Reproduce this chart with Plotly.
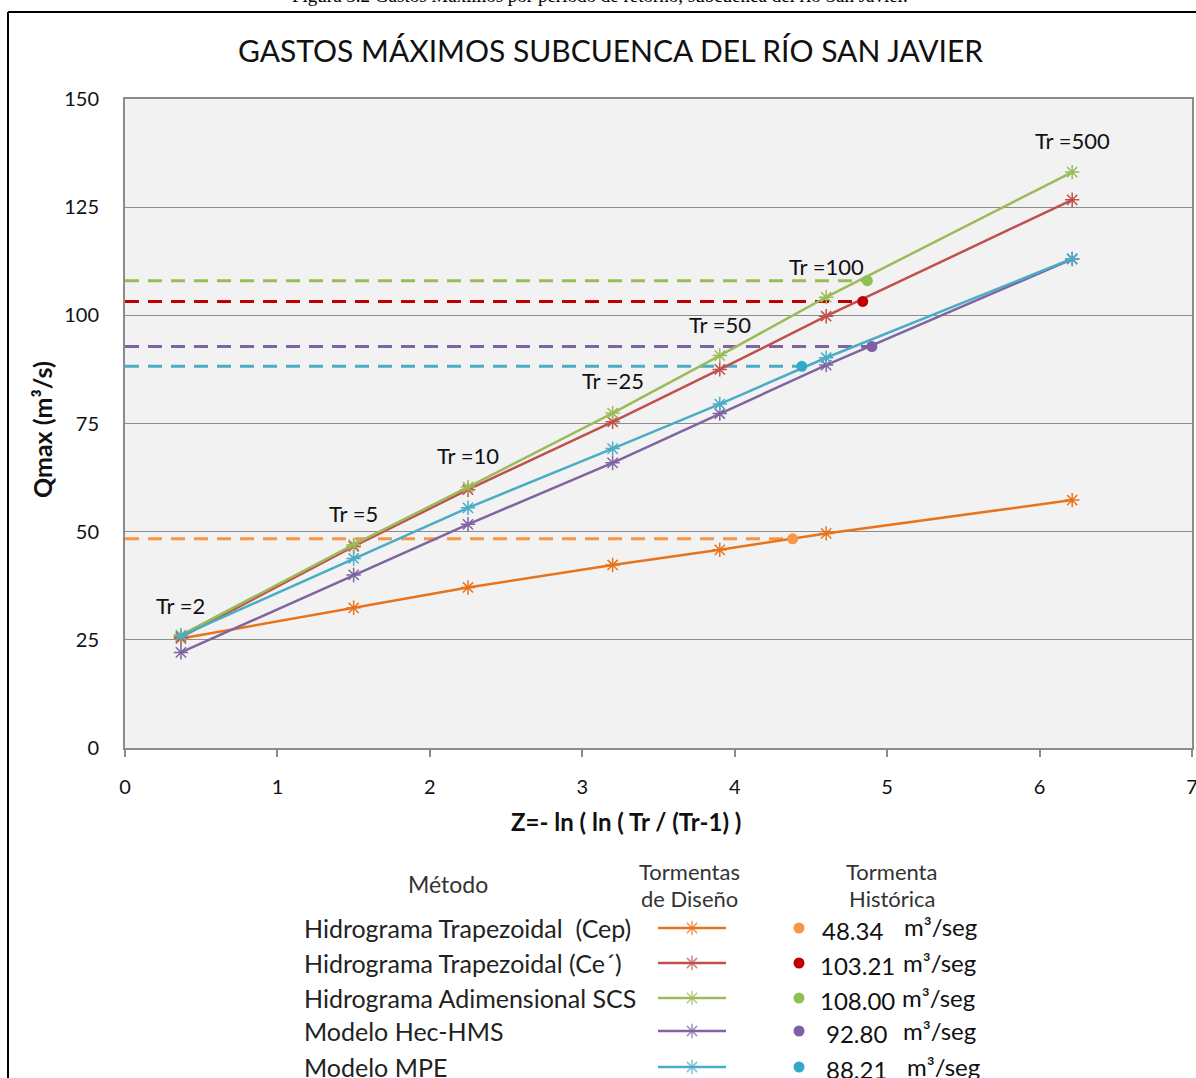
import plotly.graph_objects as go

# ---------------- data ----------------
z_values = [0.367, 1.500, 2.250, 3.199, 3.902, 4.600, 6.214]
tr_labels = ["Tr =2", "Tr =5", "Tr =10", "Tr =25", "Tr =50", "Tr =100", "Tr =500"]

methods = ["Hidrograma Trapezoidal  (Cep)", "Hidrograma Trapezoidal (Ce\u00b4)",
           "Hidrograma Adimensional SCS", "Modelo Hec-HMS", "Modelo MPE"]
q_cep = [25.3, 32.4, 37.1, 42.3, 45.8, 49.6, 57.3]
q_ce = [25.6, 46.6, 59.7, 75.4, 87.5, 99.8, 126.7]
q_scs = [26.1, 47.0, 60.3, 77.4, 90.7, 104.2, 133.1]
q_hms = [22.1, 40.0, 51.7, 65.9, 77.3, 88.5, 113.0]
q_mpe = [25.9, 43.8, 55.5, 69.2, 79.5, 90.2, 113.1]
series = [q_cep, q_ce, q_scs, q_hms, q_mpe]

hist_q = [48.34, 103.21, 108.00, 92.80, 88.21]
hist_z = [4.38, 4.84, 4.87, 4.90, 4.44]
hist_text = ["48.34", "103.21", "108.00", "92.80", "88.21"]

y_ticks = [0, 25, 50, 75, 100, 125, 150]
x_ticks = [0, 1, 2, 3, 4, 5, 6, 7]

# ---------------- styles ----------------
W, H = 1196, 1078
line_colors = ["#E8731B", "#C0504D", "#9BBB59", "#8064A2", "#4BACC6"]
hist_colors = ["#F79646", "#C00000", "#92C050", "#7F5FA8", "#31A9C9"]
dash_colors = ["#F79646", "#C00000", "#9BBB59", "#8064A2", "#4BACC6"]
tr_label_q = [33.0, 54.3, 67.5, 85.0, 97.8, 111.4, 140.5]
FONT = "Lato"
GRID = "#8c8c8c"

def px_x(px):
    return px / W

def px_y(py):
    return 1 - py / H

plot_left, plot_right, plot_top, plot_bottom = 125, 1192, 99, 748

fig = go.Figure()

# plot background (drawn as a shape so the overlay legend axes do not hide it)
fig.add_shape(type="rect", xref="x domain", yref="y domain", x0=0, x1=1, y0=0, y1=1,
              fillcolor="#f2f2f2", line=dict(width=0), layer="below")

# dashed historical reference lines
for i in range(5):
    fig.add_trace(go.Scatter(
        x=[0, hist_z[i]], y=[hist_q[i], hist_q[i]], mode="lines",
        line=dict(color=dash_colors[i], width=3, dash="14px,9px"),
        showlegend=False, hoverinfo="skip"))

# design storm series
for i in range(5):
    fig.add_trace(go.Scatter(
        x=z_values, y=series[i], mode="lines+markers", name=methods[i],
        line=dict(color=line_colors[i], width=2.5),
        marker=dict(symbol="asterisk-open", size=12,
                    line=dict(color=line_colors[i], width=1.5)),
        showlegend=False))

# historical points
for i in range(5):
    fig.add_trace(go.Scatter(
        x=[hist_z[i]], y=[hist_q[i]], mode="markers",
        marker=dict(symbol="circle", size=11, color=hist_colors[i]),
        showlegend=False))

# Tr labels
for i, lab in enumerate(tr_labels):
    fig.add_annotation(x=z_values[i], y=tr_label_q[i], text=lab, showarrow=False,
                       xanchor="center", yanchor="middle",
                       font=dict(family=FONT, size=22, color="#111111"),
                       xref="x", yref="y")

def ptext(text, px, py, size, xanchor="center", color="#111111", family=FONT, **kw):
    fig.add_annotation(x=px_x(px), y=px_y(py), xref="paper", yref="paper",
                       text=text, showarrow=False, xanchor=xanchor, yanchor="middle",
                       font=dict(family=family, size=size, color=color), **kw)

# ---------------- legend (custom, on a free pixel axis) ----------------
row_y = [928, 963, 998, 1031, 1067]
value_left = [820, 818, 818, 824, 824]
unit_left = [902, 901, 900, 901, 905]
sample_x0, sample_x1 = 658, 726
dot_x = 799
for i in range(5):
    fig.add_trace(go.Scatter(
        x=[sample_x0, (sample_x0 + sample_x1) / 2, sample_x1], y=[row_y[i]] * 3,
        mode="lines+markers", xaxis="x2", yaxis="y2",
        line=dict(color=line_colors[i], width=2.5),
        marker=dict(symbol="asterisk-open", size=[0, 12, 0],
                    line=dict(color=line_colors[i], width=1.5)),
        showlegend=False, hoverinfo="skip"))
    fig.add_trace(go.Scatter(
        x=[dot_x], y=[row_y[i]], mode="markers", xaxis="x2", yaxis="y2",
        marker=dict(symbol="circle", size=11, color=hist_colors[i]),
        showlegend=False, hoverinfo="skip"))
    ptext(methods[i], 302, row_y[i], 25, xanchor="left", color="#222222")
    ptext(hist_text[i], value_left[i], row_y[i] + 2, 24, xanchor="left")
    ptext("m\u00b3/seg", unit_left[i], row_y[i] - 1, 24, xanchor="left")

ptext("M\u00e9todo", 448, 884, 23, color="#333333")
ptext("Tormentas", 689, 871, 22, color="#333333")
ptext("de Dise\u00f1o", 689, 898, 22, color="#333333")
ptext("Tormenta", 892, 871, 22, color="#333333")
ptext("Hist\u00f3rica", 892, 898, 22, color="#333333")

# titles
ptext("GASTOS M\u00c1XIMOS SUBCUENCA DEL R\u00cdO SAN JAVIER", 610, 50, 30)
ptext("<b>Z=- ln ( ln ( Tr / (Tr-1) )</b>", 626, 821, 24)
ptext("<b>Qmax (m\u00b3/s)</b>", 42, 430, 25, textangle=-90)
ptext("Figura 3.2 Gastos M\u00e1ximos por per\u00edodo de retorno, subcuenca del r\u00edo San Javier.",
      600, -5, 19, color="#000000", family="Liberation Serif")

# frame lines
fig.add_shape(type="line", xref="paper", yref="paper", x0=px_x(8), x1=px_x(8),
              y0=px_y(12), y1=0, line=dict(color="#000000", width=2))
fig.add_shape(type="line", xref="paper", yref="paper", x0=px_x(8), x1=1,
              y0=px_y(12), y1=px_y(12), line=dict(color="#000000", width=2))

fig.update_layout(
    template="none",
    width=W, height=H, margin=dict(l=0, r=0, t=0, b=0, autoexpand=False),
    paper_bgcolor="#ffffff", plot_bgcolor="rgba(0,0,0,0)",
    showlegend=False,
    xaxis=dict(domain=[px_x(plot_left), px_x(plot_right)], range=[0, 7],
               tickvals=x_ticks, ticks="outside", ticklen=7, tickcolor=GRID,
               tickwidth=1.5,
               showline=True, linecolor=GRID, linewidth=2, mirror=True,
               showgrid=False, zeroline=False, ticklabelstandoff=13,
               ticklabeloverflow="allow", automargin=False,
               tickfont=dict(family=FONT, size=20, color="#111111")),
    yaxis=dict(domain=[px_y(plot_bottom), px_y(plot_top)], range=[0, 150],
               tickvals=y_ticks, ticks="", showline=True, linecolor=GRID,
               linewidth=2, mirror=True, showgrid=True, gridcolor=GRID, gridwidth=1,
               zeroline=False, ticklabelstandoff=20, automargin=False,
               tickfont=dict(family=FONT, size=20, color="#111111")),
    xaxis2=dict(domain=[0, 1], range=[0, W], visible=False, anchor="y2",
                automargin=False),
    yaxis2=dict(domain=[0, 1], range=[H, 0], visible=False, anchor="x2",
                automargin=False),
)

fig.write_html("out.html", config={"displayModeBar": False},
               post_script="document.body.style.margin='0';")
